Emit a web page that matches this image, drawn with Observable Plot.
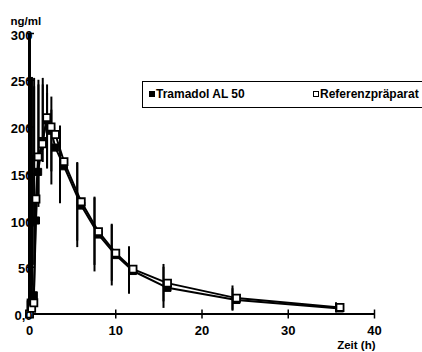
<!DOCTYPE html>
<html><head><meta charset="utf-8">
<script src="https://cdn.jsdelivr.net/npm/d3@7"></script>
<script src="https://cdn.jsdelivr.net/npm/@observablehq/plot@0.6"></script>
<style>
html,body{margin:0;padding:0;background:#fff;overflow:hidden;}
#wrap{position:relative;width:422px;height:352px;overflow:hidden;}
#legend{position:absolute;left:142px;top:81px;width:300px;height:25px;border:1.5px solid #000;font:bold 12px "Liberation Sans",Arial,sans-serif;color:#000;}
.item{position:absolute;top:5px;white-space:nowrap;line-height:14px;}
.sq{display:inline-block;width:6px;height:6px;margin-right:1px;vertical-align:1px;box-sizing:border-box;}
.filled{background:#000;}
.open{border:1.5px solid #000;background:#fff;}
</style>
</head><body>
<div id="wrap"></div>
<script>
const times      = [0, 0.25, 0.5, 0.75, 1, 1.5, 2, 2.5, 3, 4, 6, 8, 10, 12, 16, 24, 36];
const tramadol   = [0, 8, 20, 100, 152, 185, 207, 196, 178, 158, 116, 85, 63, 46, 28, 15, 6];
const referenz   = [0, 6, 12, 123, 168, 182, 210, 200, 192, 163, 120, 88, 65, 48, 33, 17, 7];
const tramadolSD = [0, 8, 25, 70, 100, 60, 45, 40, 40, 40, 45, 40, 33, 25, 22, 12, 5];
const referenzSD = [0, 8, 20, 130, 75, 68, 35, 45, 40, 38, 42, 36, 30, 24, 20, 13, 5];
const seriesNames = ["Tramadol AL 50", "Referenzpräparat"];
const xTicks = [0, 10, 20, 30, 40];
const yTicks = [0, 50, 100, 150, 200, 250, 300];
const yTickLabels = ["0,0", "50", "100", "150", "200", "250", "300"];

const rowsT = times.map((t, i) => ({t, v: tramadol[i], sd: tramadolSD[i], s: seriesNames[0]}));
const rowsR = times.map((t, i) => ({t, v: referenz[i], sd: referenzSD[i], s: seriesNames[1]}));
const rows = rowsT.concat(rowsR);

const vTick = {draw(ctx, size) {const r = Math.sqrt(size / Math.PI); ctx.moveTo(0, -r); ctx.lineTo(0, r);}};
const hTick = {draw(ctx, size) {const r = Math.sqrt(size / Math.PI); ctx.moveTo(-r, 0); ctx.lineTo(r, 0);}};
const font = '"Liberation Sans", Arial, sans-serif';

const chart = Plot.plot({
  width: 422, height: 352,
  marginLeft: 29, marginRight: 48, marginTop: 33, marginBottom: 38.5,
  x: {domain: [0, 40]},
  y: {domain: [0, 300]},
  style: {fontFamily: font, fontWeight: "bold", fontSize: "13px", background: "#fff", color: "#000"},
  marks: [
    Plot.ruleX(rows.filter(d => d.sd > 0), {x: "t", y1: d => Math.max(0, d.v - d.sd), y2: d => d.v + d.sd, stroke: "#000", strokeWidth: 2, dx: -4}),
    Plot.ruleX([0], {y1: 0, y2: 300, stroke: "#000", strokeWidth: 3}),
    Plot.ruleY([0], {x1: 0, x2: 40, stroke: "#000", strokeWidth: 2}),
    Plot.dot(xTicks, {x: d => d, y: 0, symbol: vTick, r: 4.5, fill: "none", stroke: "#000", strokeWidth: 1.5}),
    Plot.dot(yTicks, {x: 0, y: d => d, symbol: hTick, r: 3.5, dx: 1, fill: "none", stroke: "#000", strokeWidth: 1.5}),
    Plot.line(rows, {x: "t", y: "v", z: "s", stroke: "#000", strokeWidth: 2}),
    Plot.dot(rowsT, {x: "t", y: "v", symbol: "square", r: 4, fill: "#000", stroke: "#000", strokeWidth: 1}),
    Plot.dot(rowsR, {x: "t", y: "v", symbol: "square", r: 4, fill: "#fff", stroke: "#000", strokeWidth: 1.8}),
    Plot.axisY(yTicks, {tickSize: 0, tickPadding: -3, dy: 2, label: null, fontSize: 13, fontWeight: "bold", tickFormat: d => yTickLabels[yTicks.indexOf(d)]}),
    Plot.axisX(xTicks, {tickSize: 0, tickPadding: 12, label: null, fontSize: 13, fontWeight: "bold", tickFormat: d => String(d)}),
    Plot.text(["ng/ml"], {frameAnchor: "top-left", dx: -19, dy: -17, textAnchor: "start", fontSize: 11.5, fontWeight: "bold"}),
    Plot.text(["Zeit (h)"], {frameAnchor: "bottom-right", dx: 1, dy: 34.5, textAnchor: "end", fontSize: 11.5, fontWeight: "bold"})
  ]
});
const wrap = document.getElementById("wrap");
wrap.appendChild(chart);
const legend = document.createElement("div");
legend.id = "legend";
legend.innerHTML = `<span class="item" style="left:6px"><span class="sq filled"></span>${seriesNames[0]}</span><span class="item" style="left:170px"><span class="sq open"></span>${seriesNames[1]}</span>`;
wrap.appendChild(legend);
</script>
</body></html>
